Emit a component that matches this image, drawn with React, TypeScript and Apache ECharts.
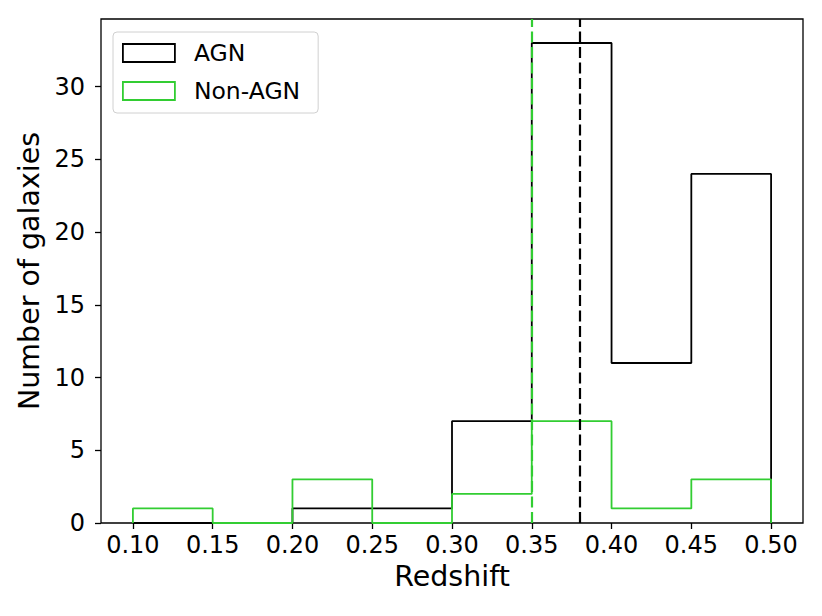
import React, { useEffect, useRef } from "react";
import * as echarts from "echarts";

const binEdges = [0.1, 0.15, 0.2, 0.25, 0.3, 0.35, 0.4, 0.45, 0.5];
const agnCounts = [0, 0, 1, 1, 7, 33, 11, 24];
const nonAgnCounts = [1, 0, 3, 0, 2, 7, 1, 3];
const agnMedian = 0.38;
const nonAgnMedian = 0.3502;
const xTicks = [0.1, 0.15, 0.2, 0.25, 0.3, 0.35, 0.4, 0.45, 0.5];
const yTicks = [0, 5, 10, 15, 20, 25, 30];

const FONT = "DejaVu Sans";
const GREEN = "#32CD32";

function stepOutline(edges: number[], counts: number[]): number[][] {
  const pts: number[][] = [[edges[0], 0]];
  counts.forEach((c, i) => {
    pts.push([edges[i], c]);
    pts.push([edges[i + 1], c]);
  });
  pts.push([edges[edges.length - 1], 0]);
  return pts;
}

export default function App() {
  const ref = useRef<HTMLDivElement>(null);
  useEffect(() => {
    if (!ref.current) return;
    const chart = echarts.init(ref.current, undefined, { renderer: "svg" });
    chart.setOption({
      animation: false,
      backgroundColor: "#ffffff",
      grid: {
        left: 101,
        top: 19,
        width: 702,
        height: 504,
        show: true,
        borderColor: "#000",
        borderWidth: 1.3,
        backgroundColor: "transparent",
      },
      legend: {
        orient: "vertical",
        left: 113,
        top: 32,
        padding: [9, 18, 10, 9],
        itemGap: 14,
        itemWidth: 52,
        itemHeight: 18,
        backgroundColor: "#fff",
        borderColor: "#d0d0d0",
        borderWidth: 1,
        borderRadius: 4,
        icon: "rect",
        textStyle: { fontFamily: FONT, fontSize: 23.5, color: "#000", padding: [0, 0, 0, 14] },
        data: [
          { name: "AGN", itemStyle: { color: "rgba(0,0,0,0)", borderColor: "#000", borderWidth: 1.8 } },
          { name: "Non-AGN", itemStyle: { color: "rgba(0,0,0,0)", borderColor: GREEN, borderWidth: 1.8 } },
        ],
      },
      xAxis: {
        type: "value",
        min: 0.08,
        max: 0.52,
        name: "Redshift",
        nameLocation: "middle",
        nameGap: 39,
        nameTextStyle: { fontFamily: FONT, fontSize: 28.5, color: "#000" },
        axisLine: { show: false },
        splitLine: { show: false },
        axisTick: {
          show: true,
          length: 6,
          inside: false,
          customValues: xTicks,
          lineStyle: { color: "#000", width: 1.3 },
        },
        axisLabel: {
          customValues: xTicks,
          margin: 10,
          fontFamily: FONT,
          fontSize: 24,
          color: "#000",
          formatter: (v: number) => v.toFixed(2),
        },
      },
      yAxis: {
        type: "value",
        min: 0,
        max: 34.65,
        name: "Number of galaxies",
        nameLocation: "middle",
        nameGap: 54,
        nameTextStyle: { fontFamily: FONT, fontSize: 28.5, color: "#000" },
        axisLine: { show: false },
        splitLine: { show: false },
        axisTick: {
          show: true,
          length: 6,
          inside: false,
          customValues: yTicks,
          lineStyle: { color: "#000", width: 1.3 },
        },
        axisLabel: {
          customValues: yTicks,
          margin: 16,
          fontFamily: FONT,
          fontSize: 24,
          color: "#000",
          formatter: (v: number) => String(v),
        },
      },
      series: [
        {
          name: "AGN",
          type: "line",
          data: stepOutline(binEdges, agnCounts),
          showSymbol: false,
          symbol: "none",
          lineStyle: { color: "#000", width: 1.8 },
          itemStyle: { color: "#000" },
          z: 2,
          silent: true,
        },
        {
          name: "Non-AGN",
          type: "line",
          data: stepOutline(binEdges, nonAgnCounts),
          showSymbol: false,
          symbol: "none",
          lineStyle: { color: GREEN, width: 1.8 },
          itemStyle: { color: GREEN },
          z: 3,
          silent: true,
          markLine: {
            silent: true,
            symbol: "none",
            label: { show: false },
            data: [
              { xAxis: agnMedian, lineStyle: { color: "#000", width: 2.2, type: [11, 4.5] } },
              { xAxis: nonAgnMedian, lineStyle: { color: GREEN, width: 2.2, type: [11, 4.5] } },
            ],
          },
        },
      ],
    });
    return () => chart.dispose();
  }, []);
  return <div ref={ref} style={{ width: 822, height: 616, margin: -8 }} />;
}
